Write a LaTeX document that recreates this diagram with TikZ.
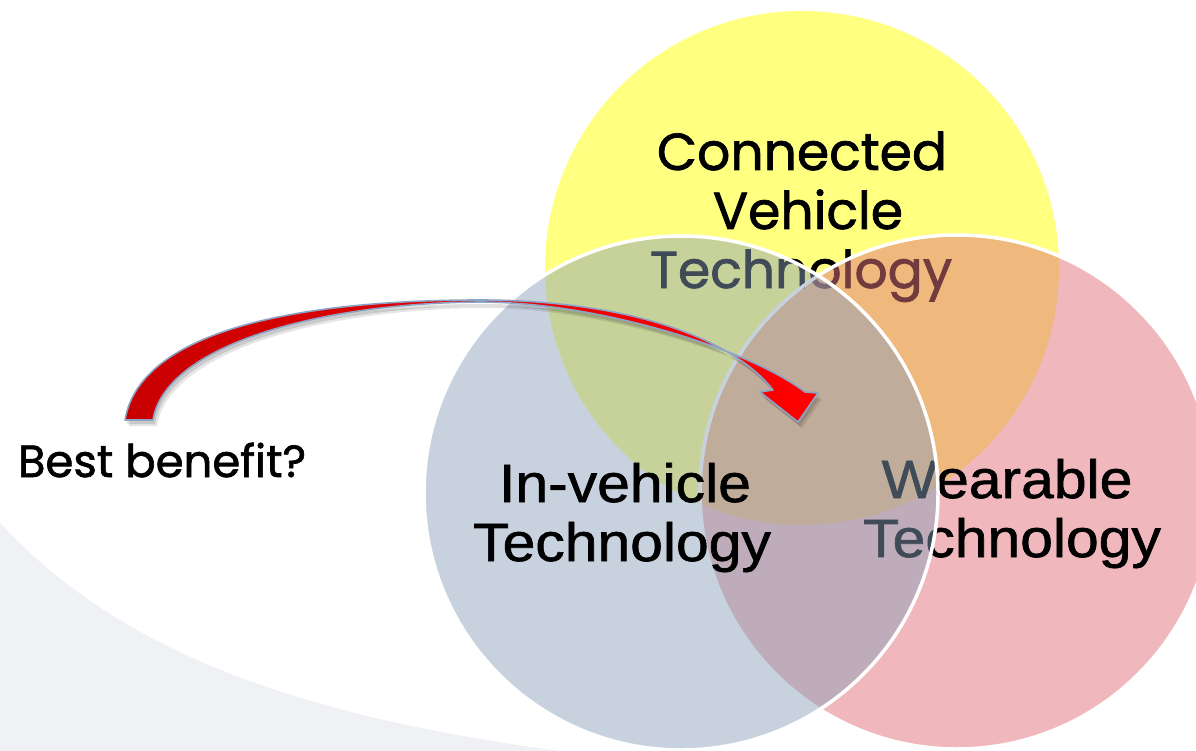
\documentclass[tikz,border=0pt]{standalone}
\usepackage{fontspec}
\setmainfont{Liberation Sans}
\newfontfamily\venfont[FakeStretch=1.09, FakeBold=1.2]{Liberation Sans}
\newfontfamily\roundfont[FakeBold=1.4]{Poppins}
\begin{document}
\begin{tikzpicture}[x=1pt,y=-1pt]
\definecolor{ycirc}{RGB}{255,255,128}
\definecolor{pcirc}{RGB}{225,116,123}
\definecolor{bcirc}{RGB}{138,160,187}
\definecolor{swoosh}{RGB}{239,241,245}
\definecolor{arrowedge}{RGB}{141,163,197}
\definecolor{darkred}{RGB}{200,0,0}
\tikzset{
  setcircle/.style={circle, inner sep=0pt, minimum size=514pt},
  bigtext/.style={anchor=base, font=\venfont\fontsize{54}{60}\selectfont},
  roundtext/.style={anchor=base, font=\roundfont\fontsize{52}{60}\selectfont},
}
\useasboundingbox (0,0) rectangle (1196,751);
% pale background swoosh
\fill[swoosh] (0,523) .. controls (100,630) and (250,710) .. (560,751) -- (0,751) -- cycle;

% connected vehicle set
\node[setcircle, fill=ycirc] (ycir) at (802,268) {};
\node[roundtext] (y1) at (802,170) {Connected};
\node[roundtext] (y2) at (808,229) {Vehicle};
\node[roundtext] (y3) at (801,288) {Technology};

% wearable set
\node[setcircle, fill=pcirc, fill opacity=0.51, draw=white, line width=3.5pt] (pcir) at (957,492) {};
\node[bigtext] (p1) at (1007,498) {Wearable};
\node[bigtext] (p2) at (1012,557) {Technology};

% in-vehicle set
\node[setcircle, fill=bcirc, fill opacity=0.47, draw=white, line width=3.5pt] (bcir) at (681,493) {};
\node[bigtext] (b1) at (625,502) {In-vehicle};
\node[bigtext] (b2) at (622,561) {Technology};

% curved arrow: soft shadow, then body
\def\arrowpath{(125,420) .. controls (140,330) and (300,300) .. (480,300)
  .. controls (620,300) and (730,335) .. (773,390)
  -- (760,392) -- (798,422) -- (818,393) -- (805,392)
  .. controls (750,350) and (600,302) .. (480,302)
  .. controls (320,303) and (165,345) .. (153,420) -- cycle}
\begin{scope}[shift={(4,6)}]
  \fill[black, opacity=0.10] \arrowpath;
\end{scope}
\begin{scope}[shift={(2,4)}]
  \fill[black, opacity=0.12] \arrowpath;
\end{scope}
\path[draw=arrowedge, line width=1.6pt, line join=round, left color=darkred, right color=red] \arrowpath;

\node[anchor=base, font=\roundfont\fontsize{45}{50}\selectfont] (q) at (162,477) {Best benefit?};
\end{tikzpicture}
\end{document}
